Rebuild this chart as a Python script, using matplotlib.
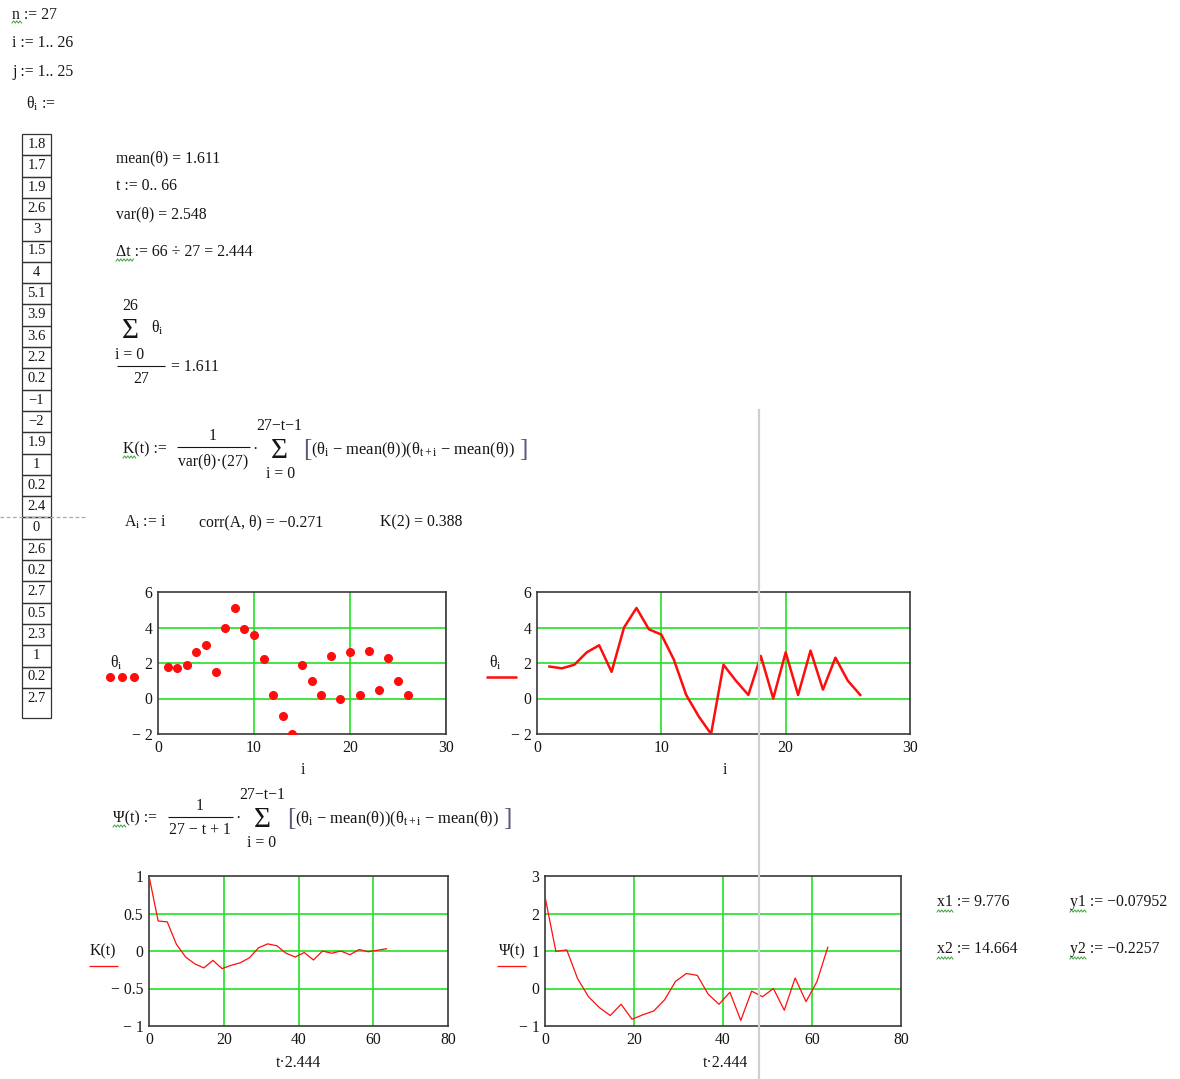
import numpy as np
import matplotlib
matplotlib.use("Agg")
import matplotlib.pyplot as plt
from matplotlib.lines import Line2D
from matplotlib.patches import Rectangle
from matplotlib.ticker import FuncFormatter

plt.rcParams["font.family"] = ["Liberation Serif", "DejaVu Serif"]
plt.rcParams["mathtext.fontset"] = "custom"
plt.rcParams["mathtext.rm"] = "Liberation Serif"
plt.rcParams["mathtext.it"] = "Liberation Serif"
plt.rcParams["mathtext.default"] = "regular"

# measured column theta_1 .. theta_27
theta = [1.8, 1.7, 1.9, 2.6, 3, 1.5, 4, 5.1, 3.9, 3.6, 2.2, 0.2, -1, -2,
         1.9, 1, 0.2, 2.4, 0, 2.6, 0.2, 2.7, 0.5, 2.3, 1, 0.2, 2.7]
idx = list(range(1, 27))

# autocorrelation K(t) and autocovariance Psi(t) for lags t = 0..26
lags = np.arange(27)
dt = 2.444
K_vals = [1.0, 0.40, 0.388, 0.09, -0.0795, -0.17, -0.2257, -0.125, -0.235,
          -0.19, -0.157, -0.09, 0.044, 0.095, 0.07, -0.03, -0.08, -0.02,
          -0.12, 0.0, -0.03, 0.0, -0.05, 0.02, -0.01, 0.01, 0.03]
Psi_vals = [2.45, 0.99, 1.03, 0.26, -0.22, -0.51, -0.72, -0.42, -0.82,
            -0.70, -0.60, -0.30, 0.19, 0.40, 0.35, -0.15, -0.42, -0.10,
            -0.85, -0.07, -0.22, 0.0, -0.58, 0.28, -0.35, 0.18, 1.10]

W, H = 1180, 1079
INK = "#151515"
GRID = "#22e022"
RED = "#ff0d0d"
BRACKET = "#5a5a7a"
FS = 11.3
MINUS = "\u2212"

fig = plt.figure(figsize=(W / 100, H / 100), dpi=100)
fig.patch.set_facecolor("white")

# sheet layer in pixel coordinates
bg = fig.add_axes([0, 0, 1, 1], zorder=-1)
bg.set_xlim(0, W)
bg.set_ylim(H, 0)
bg.axis("off")


def txt(x, y, s, size=FS, ha="left", va="center", color=INK):
    bg.text(x, y, s, fontsize=size, ha=ha, va=va, color=color)


def hline(x0, x1, y, color=INK, lw=0.8, ls="-"):
    bg.plot([x0, x1], [y, y], color=color, lw=lw, ls=ls, solid_capstyle="butt")


def squiggle(x0, x1, y):
    xs = np.arange(x0, x1 + 0.1, 1.6)
    ys = y + 1.1 * (-1) ** np.arange(len(xs))
    bg.plot(xs, ys, color="#3aa53a", lw=0.7)


def px_axes(l, t, r, b):
    return fig.add_axes([l / W, 1 - b / H, (r - l) / W, (b - t) / H])


def mc_fmt(v, pos):
    s = f"{v:g}"
    return MINUS + " " + s[1:] if v < 0 else s


def style(ax, xlim, ylim, xt, yt, xgrid, ygrid):
    ax.set_xlim(*xlim)
    ax.set_ylim(*ylim)
    ax.set_xticks(xt)
    ax.set_yticks(yt)
    ax.xaxis.set_major_formatter(FuncFormatter(mc_fmt))
    ax.yaxis.set_major_formatter(FuncFormatter(mc_fmt))
    for g in xgrid:
        ax.axvline(g, color=GRID, lw=1.2, zorder=1)
    for g in ygrid:
        ax.axhline(g, color=GRID, lw=1.2, zorder=1)
    for sp in ax.spines.values():
        sp.set_color("#3a3a3a")
        sp.set_linewidth(1.2)
    ax.tick_params(length=0, labelsize=FS, pad=4, colors=INK)


SUMMAND = (r"($θ_i$ " + MINUS + r" mean(θ))($θ_{t+i}$ " + MINUS + " mean(θ))")

# header definitions
txt(12, 15, "n := 27")
squiggle(12, 22, 22)
txt(12, 43, "i := 1.. 26")
txt(12, 72, "j := 1.. 25")
txt(26, 104, r"$θ_i$ :=")

# theta column
top, rh = 134, 21.3
for k, v in enumerate(theta):
    y0 = top + k * rh
    h = rh if k < len(theta) - 1 else 30
    bg.add_patch(Rectangle((22, y0), 29, h, fill=False, ec="#333333", lw=0.9))
    txt(36.5, y0 + 10.5, mc_fmt(v, None).replace(" ", ""), size=10.5, ha="center")

hline(0, 85, 517, color="#aaaaaa", lw=0.9, ls=(0, (3, 2)))

# statistics
txt(116, 158, "mean(θ) = 1.611")
txt(116, 186, "t := 0.. 66")
txt(116, 214, "var(θ) = 2.548")
txt(116, 252, "Δt := 66 ÷ 27 = 2.444")
squiggle(116, 134, 260)

# mean as a sum
txt(130, 306, "26", ha="center")
txt(130, 331, "Σ", size=21, ha="center")
txt(151, 328, r"$θ_i$")
txt(130, 355, "i = 0", ha="center")
hline(117, 165, 366)
txt(141, 379, "27", ha="center")
txt(171, 367, "= 1.611")

# K(t) definition
txt(123, 449, "K(t) :=")
squiggle(123, 137, 457)
txt(213, 436, "1", ha="center")
hline(177, 250, 447)
txt(213, 461, "var(θ)·(27)", ha="center")
txt(252, 450, "·")
txt(279, 426, "27" + MINUS + "t" + MINUS + "1", ha="center")
txt(279, 451, "Σ", size=21, ha="center")
txt(281, 474, "i = 0", ha="center")
txt(303, 450, "[", size=18, color=BRACKET)
txt(311, 450, SUMMAND, size=11.9)
txt(519, 450, "]", size=18, color=BRACKET)

txt(124, 522, r"$A_i$ := i")
txt(199, 522, "corr(A, θ) = " + MINUS + "0.271")
txt(380, 522, "K(2) = 0.388")

# Psi(t) definition
txt(113, 818, "Ψ(t) :=")
squiggle(113, 127, 826)
txt(200, 806, "1", ha="center")
hline(168, 233, 817)
txt(200, 830, "27 " + MINUS + " t + 1", ha="center")
txt(235, 819, "·")
txt(262, 795, "27" + MINUS + "t" + MINUS + "1", ha="center")
txt(262, 820, "Σ", size=21, ha="center")
txt(262, 843, "i = 0", ha="center")
txt(287, 819, "[", size=18, color=BRACKET)
txt(295, 819, SUMMAND, size=11.9)
txt(503, 819, "]", size=18, color=BRACKET)

# picked points
txt(937, 902, "x1 := 9.776")
squiggle(937, 953, 911)
txt(1070, 902, "y1 := " + MINUS + "0.07952")
squiggle(1070, 1086, 911)
txt(937, 949, "x2 := 14.664")
squiggle(937, 953, 958)
txt(1070, 949, "y2 := " + MINUS + "0.2257")
squiggle(1070, 1086, 958)

# theta scatter
ax1 = px_axes(158, 592, 446, 734)
style(ax1, (0, 30), (-2, 6), [0, 10, 20, 30], [-2, 0, 2, 4, 6],
      [10, 20, 30], [0, 2, 4])
ax1.plot(idx, theta[:26], "o", color=RED, ms=5.5, zorder=3)
txt(303, 770, "i", ha="center")
txt(116, 663, r"$θ_i$", ha="center")
for xd in (110, 122, 134):
    bg.plot(xd, 677, "o", color=RED, ms=5.5)

# theta as a line
ax2 = px_axes(537, 592, 910, 734)
style(ax2, (0, 30), (-2, 6), [0, 10, 20, 30], [-2, 0, 2, 4, 6],
      [10, 20], [0, 2, 4])
ax2.plot(idx, theta[:26], color=RED, lw=1.8, zorder=3)
txt(725, 770, "i", ha="center")
txt(495, 663, r"$θ_i$", ha="center")
hline(486, 517, 677, color=RED, lw=1.8)

# K(t)
ax3 = px_axes(149, 876, 448, 1026)
style(ax3, (0, 80), (-1, 1), [0, 20, 40, 60, 80], [-1, -0.5, 0, 0.5, 1],
      [20, 40, 60], [-0.5, 0, 0.5])
ax3.plot(lags * dt, K_vals, color=RED, lw=0.9, zorder=3)
txt(298, 1063, "t·2.444", ha="center")
txt(103, 951, "K(t)", ha="center")
hline(89, 118, 966, color=RED, lw=0.9)

# Psi(t)
ax4 = px_axes(545, 876, 901, 1026)
style(ax4, (0, 80), (-1, 3), [0, 20, 40, 60, 80], [-1, 0, 1, 2, 3],
      [20, 40, 60], [0, 1, 2])
ax4.plot(lags * dt, Psi_vals, color=RED, lw=0.9, zorder=3)
txt(725, 1063, "t·2.444", ha="center")
txt(512, 951, "Ψ(t)", ha="center")
hline(497, 526, 966, color=RED, lw=0.9)

# region marker line across the right column
fig.add_artist(Line2D([759 / W, 759 / W], [1 - 410 / H, 0],
                      color="#cfcfcf", lw=1.6, zorder=10))

fig.savefig("out.png", dpi=100, facecolor="white")
